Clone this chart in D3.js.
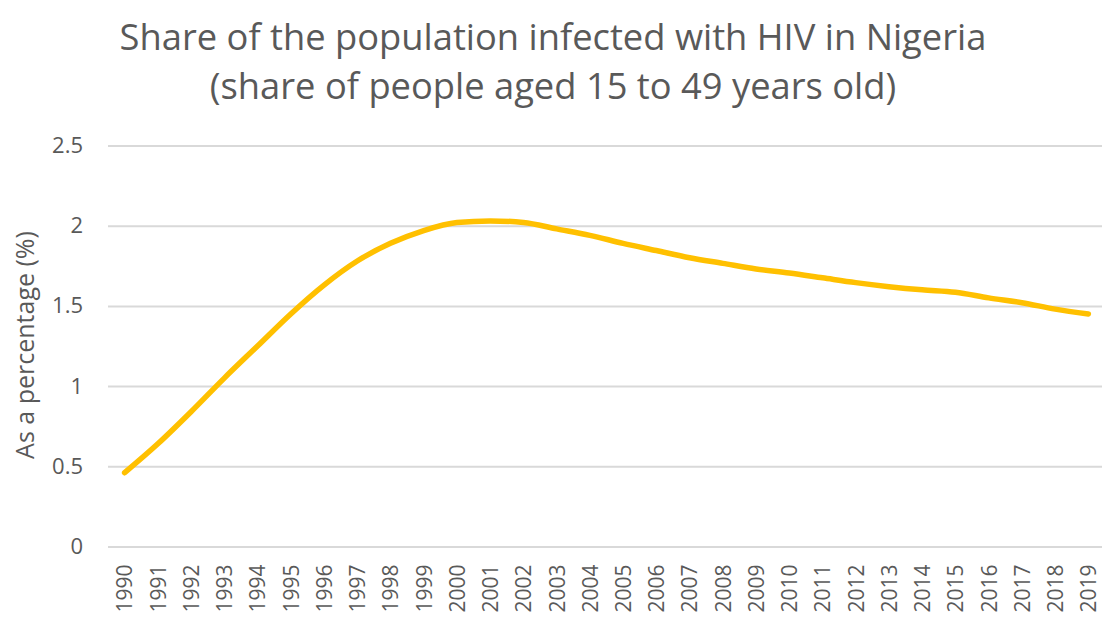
<!DOCTYPE html>
<html>
<head>
<meta charset="utf-8">
<script src="https://cdn.jsdelivr.net/npm/d3@7"></script>
<style>
    body { margin: 0; background: #fff; }
    text { font-family: "Open Sans", "Noto Sans", sans-serif; fill: #595959; }
</style>
</head>
<body>
<div id="chart"></div>
<script>
"use strict";

const years = [
    "1990", "1991", "1992", "1993", "1994", "1995", "1996", "1997", "1998", "1999",
    "2000", "2001", "2002", "2003", "2004", "2005", "2006", "2007", "2008", "2009",
    "2010", "2011", "2012", "2013", "2014", "2015", "2016", "2017", "2018", "2019",
];
const share = [
    0.46, 0.64, 0.84, 1.05, 1.25, 1.45, 1.63, 1.78, 1.89, 1.97,
    2.02, 2.03, 2.02, 1.98, 1.94, 1.89, 1.845, 1.80, 1.765, 1.73,
    1.705, 1.675, 1.645, 1.62, 1.60, 1.585, 1.55, 1.52, 1.48, 1.45,
];
const yticks = [0, 0.5, 1, 1.5, 2, 2.5];
const title = [
    "Share of the population infected with HIV in Nigeria",
    "(share of people aged 15 to 49 years old)",
];
const yTitle = "As a percentage (%)";

const WIDTH = 1102;
const HEIGHT = 617;
const LEFT = 108;
const RIGHT = 1105;
const TOP = 145.5;
const BOTTOM = 546.5;

let svg = d3.select("#chart").append("svg")
    .attr("width", WIDTH)
    .attr("height", HEIGHT);

let xscale = d3.scalePoint()
    .domain(years)
    .range([LEFT, RIGHT])
    .padding(0.5);

let yscale = d3.scaleLinear()
    .domain([0, 2.5])
    .range([BOTTOM, TOP]);

// gridlines + y labels (gridlines run to the right edge)
let yaxis = svg.append("g")
    .attr("transform", `translate(${LEFT},0)`)
    .call(d3.axisLeft(yscale)
        .tickValues(yticks)
        .tickFormat(d => String(d))
        .tickSize(-(WIDTH - LEFT))
        .tickPadding(25));

yaxis.select(".domain").remove();
yaxis.selectAll(".tick line")
    .attr("stroke", "#d9d9d9")
    .attr("stroke-width", 2);
yaxis.selectAll(".tick text")
    .style("font-size", "22px")
    .attr("fill", "#595959");

// x labels, rotated
let xaxis = svg.append("g")
    .attr("transform", `translate(0,${BOTTOM})`)
    .call(d3.axisBottom(xscale).tickSize(0).tickPadding(0));

xaxis.select(".domain").remove();
xaxis.selectAll(".tick text")
    .style("font-size", "21px")
    .attr("fill", "#595959")
    .attr("transform", "rotate(-90)")
    .attr("text-anchor", "end")
    .attr("x", -18)
    .attr("y", 0)
    .attr("dy", "0.35em");

// the series
let line = d3.line()
    .x((d, i) => xscale(years[i]))
    .y(d => yscale(d))
    .curve(d3.curveMonotoneX);

svg.append("path")
    .datum(share)
    .attr("fill", "none")
    .attr("stroke", "#FFC000")
    .attr("stroke-width", 5.5)
    .attr("stroke-linecap", "round")
    .attr("d", line);

// titles
svg.append("g")
    .selectAll("text")
    .data(title)
    .join("text")
    .attr("x", 553)
    .attr("y", (d, i) => 50 + i * 49)
    .attr("text-anchor", "middle")
    .style("font-size", "36.3px")
    .text(d => d);

svg.append("text")
    .attr("transform", `translate(34,345) rotate(-90)`)
    .attr("text-anchor", "middle")
    .style("font-size", "25px")
    .text(yTitle);
</script>
</body>
</html>
